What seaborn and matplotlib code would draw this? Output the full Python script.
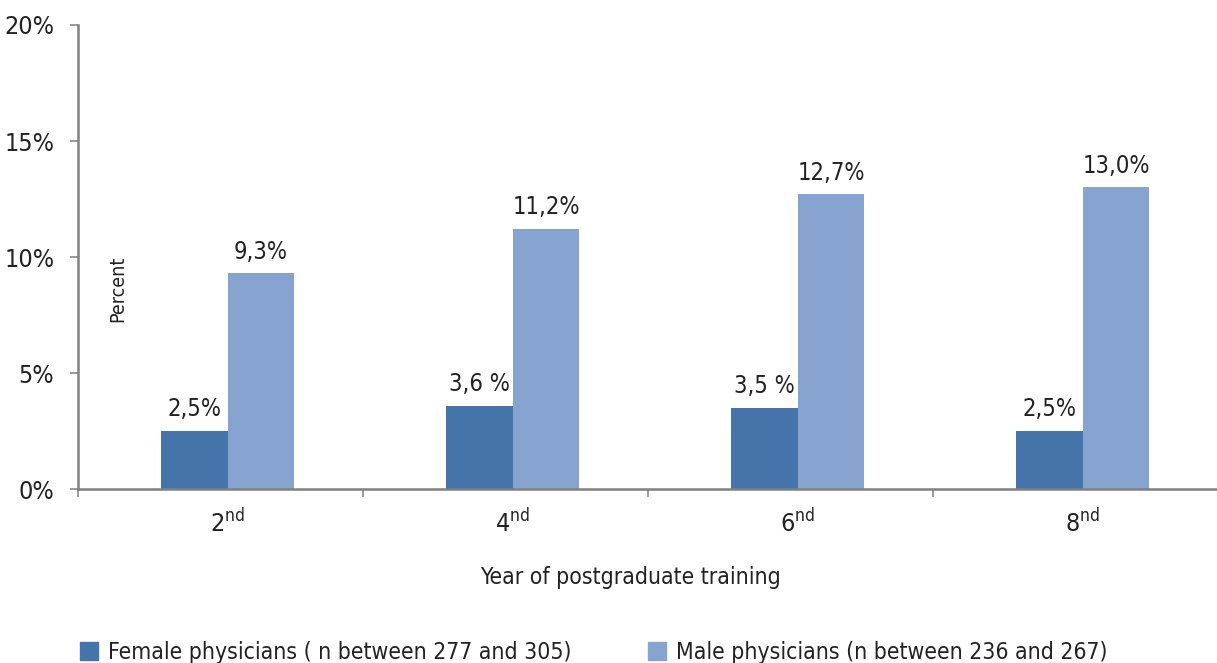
import matplotlib
matplotlib.use("Agg")
import matplotlib.pyplot as plt
import seaborn as sns
import pandas as pd

# values
years = ["2", "4", "6", "8"]
female = [2.5, 3.6, 3.5, 2.5]
male = [9.3, 11.2, 12.7, 13.0]
female_labels = ["2,5%", "3,6 %", "3,5 %", "2,5%"]
male_labels = ["9,3%", "11,2%", "12,7%", "13,0%"]
series = ["Female physicians ( n between 277 and 305)",
          "Male physicians (n between 236 and 267)"]
yticks = [0, 5, 10, 15, 20]

sns.set_style("white")
plt.rcParams["font.family"] = ["DejaVu Sans"]
plt.rcParams["font.stretch"] = "condensed"
plt.rcParams["mathtext.fontset"] = "custom"
plt.rcParams["mathtext.rm"] = "DejaVu Sans:stretch=condensed"

df = pd.DataFrame({
    "year": years * 2,
    "value": female + male,
    "group": [series[0]] * 4 + [series[1]] * 4,
})

fig = plt.figure(figsize=(12.17, 6.63), dpi=100)
ax = fig.add_axes([0.0641, 0.2624, 0.9359, 0.6999])
ax = sns.barplot(data=df, x="year", y="value", hue="group", order=years,
                 hue_order=series, palette=["#4574AB", "#87A3CF"],
                 width=0.467, gap=0, saturation=1, linewidth=0, ax=ax, legend=False)

ax.bar_label(ax.containers[0], labels=female_labels, padding=7, fontsize=17, color="#222222")
ax.bar_label(ax.containers[1], labels=male_labels, padding=7, fontsize=17, color="#222222")

ax.set_ylim(0, 20)
ax.set_xlim(-0.525, 3.471)
ax.set_yticks(yticks)
ax.set_yticklabels(["%d%%" % t for t in yticks], fontsize=18, color="#222222")
ax.set_xticks(range(4))
ax.set_xticklabels([y + r"$^{\mathrm{nd}}$" for y in years], fontsize=18, color="#222222")
ax.set_xticks([-0.525, 0.475, 1.475, 2.475], minor=True)
ax.tick_params(axis="x", which="major", bottom=True, length=0, pad=14)
ax.tick_params(axis="x", which="minor", bottom=True, length=6, width=1.2,
               color="#888888", direction="out")
ax.tick_params(axis="y", left=True, length=6, width=1.2, color="#888888",
               direction="out", pad=11)

for s in ["top", "right"]:
    ax.spines[s].set_visible(False)
for s in ["left", "bottom"]:
    ax.spines[s].set_color("#808080")
    ax.spines[s].set_linewidth(1.8)

ax.set_xlabel("Year of postgraduate training", fontsize=16.5, color="#222222")
ax.xaxis.set_label_coords(0.485, -0.165)
ax.set_ylabel("Percent", fontsize=14, color="#222222")
ax.yaxis.set_label_coords(0.043, 0.431)

handles = [plt.Rectangle((0, 0), 1, 1, color=c) for c in ["#4574AB", "#87A3CF"]]
fig.legend(handles, series, loc="center left", bbox_to_anchor=(0.058, 0.016),
           ncol=2, frameon=False, fontsize=16.5, handlelength=0.8, handleheight=0.8,
           handletextpad=0.45, columnspacing=3.3, borderaxespad=0, labelcolor="#222222")

fig.savefig("out.png", dpi=100)
